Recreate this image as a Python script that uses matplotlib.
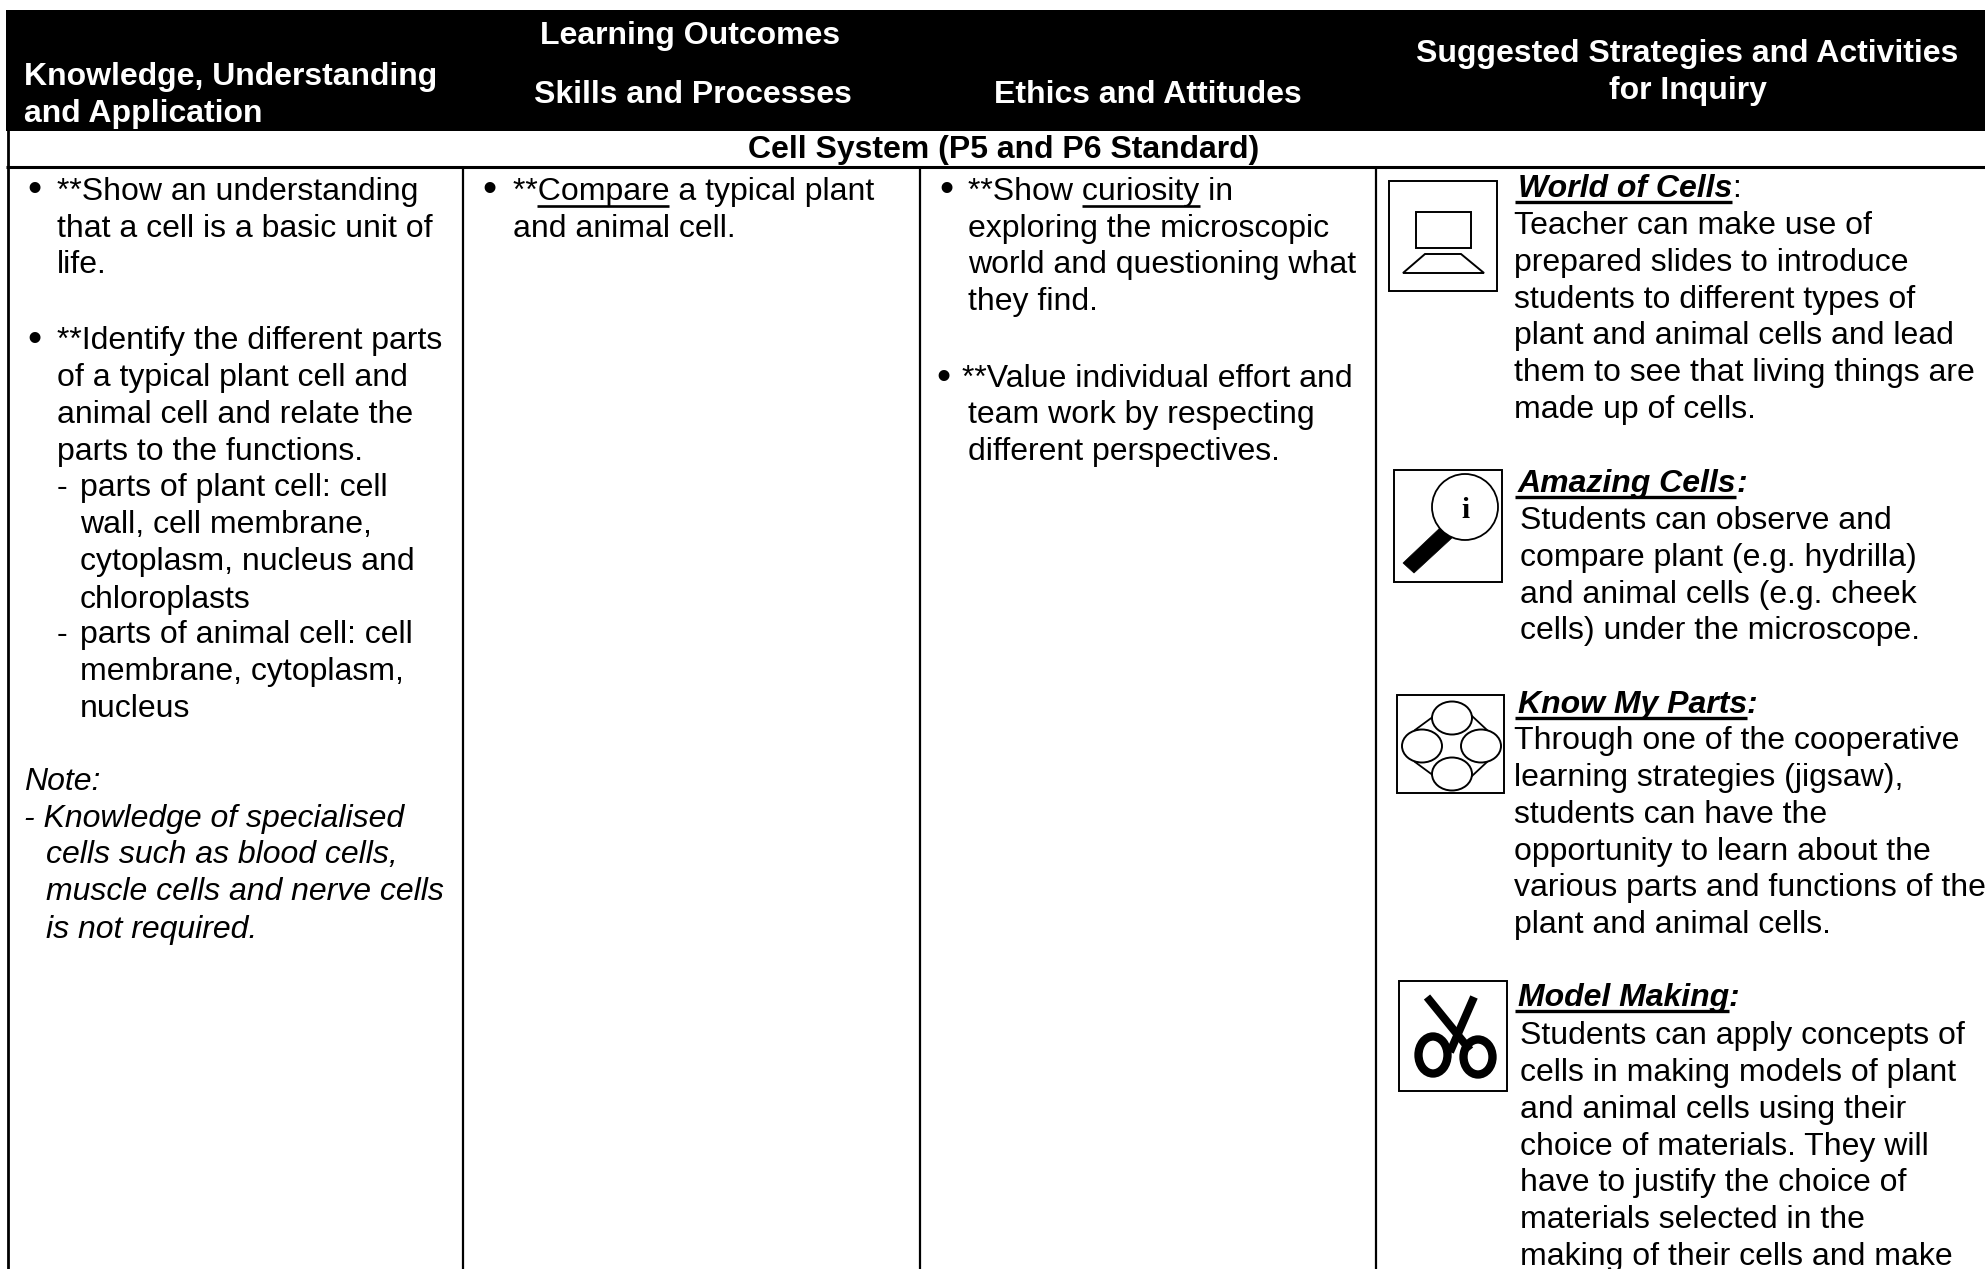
import matplotlib
matplotlib.use("Agg")
import matplotlib.pyplot as plt
from matplotlib.patches import Rectangle, Polygon, Ellipse, Circle

plt.rcParams['font.family'] = ['Liberation Sans', 'DejaVu Sans']

S = 1985 / 1568
FS = 23.0

# (text, x, y) in shrunk-reference coordinates
header_left = [("Knowledge, Understanding", 19, 59), ("and Application", 19, 88)]
header_center = [("Learning Outcomes", 545, 27), ("Skills and Processes", 547, 73),
                 ("Ethics and Attitudes", 907, 73),
                 ("Suggested Strategies and Activities", 1333, 41), ("for Inquiry", 1333, 70)]
section_title = ("Cell System (P5 and P6 Standard)", 793, 117)
bullets = [(27, 150), (27, 268), (387, 150), (748, 150), (745, 298)]
plain_lines = [
    ("**Show an understanding", 45, 150), ("that a cell is a basic unit of", 45, 179), ("life.", 45, 208),
    ("**Identify the different parts", 45, 268), ("of a typical plant cell and", 45, 297),
    ("animal cell and relate the", 45, 326), ("parts to the functions.", 45, 355),
    ("-", 45, 384), ("parts of plant cell: cell", 63, 384), ("wall, cell membrane,", 63, 413),
    ("cytoplasm, nucleus and", 63, 442), ("chloroplasts", 63, 472),
    ("-", 45, 500), ("parts of animal cell: cell", 63, 500), ("membrane, cytoplasm,", 63, 529),
    ("nucleus", 63, 558),
    ("and animal cell.", 405, 179),
    ("exploring the microscopic", 765, 179), ("world and questioning what", 765, 208),
    ("they find.", 765, 237), ("**Value individual effort and", 760, 298),
    ("team work by respecting", 765, 326), ("different perspectives.", 765, 355),
    ("Teacher can make use of", 1196, 177), ("prepared slides to introduce", 1196, 206),
    ("students to different types of", 1196, 235), ("plant and animal cells and lead", 1196, 264),
    ("them to see that living things are", 1196, 293), ("made up of cells.", 1196, 322),
    ("Students can observe and", 1201, 410), ("compare plant (e.g. hydrilla)", 1201, 439),
    ("and animal cells (e.g. cheek", 1201, 468), ("cells) under the microscope.", 1201, 497),
    ("Through one of the cooperative", 1196, 584), ("learning strategies (jigsaw),", 1196, 613),
    ("students can have the", 1196, 642), ("opportunity to learn about the", 1196, 671),
    ("various parts and functions of the", 1196, 700), ("plant and animal cells.", 1196, 729),
    ("Students can apply concepts of", 1201, 817), ("cells in making models of plant", 1201, 846),
    ("and animal cells using their", 1201, 875), ("choice of materials. They will", 1201, 904),
    ("have to justify the choice of", 1201, 933), ("materials selected in the", 1201, 962),
    ("making of their cells and make", 1201, 991),
]
italic_lines = [
    ("Note:", 19, 616), ("- Knowledge of specialised", 19, 645),
    ("cells such as blood cells,", 36, 674), ("muscle cells and nerve cells", 36, 703),
    ("is not required.", 36, 733),
]
# (before, underlined, after, x, y)
underlined_lines = [("**", "Compare", " a typical plant", 405, 150),
                    ("**Show ", "curiosity", " in", 765, 150)]
# (underlined title, colon weight, x, y)
titles = [("World of Cells", "normal", 1199, 148), ("Amazing Cells", "bold", 1199, 381),
          ("Know My Parts", "bold", 1199, 555), ("Model Making", "bold", 1199, 787)]
column_lines = [366, 727, 1087]

fig = plt.figure(figsize=(19.85, 12.69), dpi=100)
ax = fig.add_axes([0, 0, 1, 1])
ax.set_xlim(0, 1985)
ax.set_ylim(1269, 0)
ax.axis('off')
rend = fig.canvas.get_renderer()
BASE = 8.0


def T(s, x, y, **kw):
    kw.setdefault('fontsize', FS)
    kw.setdefault('color', 'black')
    return ax.text(x * S, (y + BASE) * S, s, va='baseline', **kw)


def adv(s, **kw):
    t = ax.text(0, 0, s + "x", fontsize=FS, **kw)
    w1 = t.get_window_extent(rend).width
    t.set_text("x")
    w2 = t.get_window_extent(rend).width
    t.remove()
    return w1 - w2


# table frame
ax.add_patch(Rectangle((6, 10), 1979, 121, fc='black', ec='none', zorder=1))
ax.plot([7.5, 7.5], [10, 1269], color='black', lw=2.0, solid_capstyle='butt')
ax.plot([6, 1985], [167, 167], color='black', lw=2.2, solid_capstyle='butt')
for cx in column_lines:
    ax.plot([cx * S, cx * S], [167, 1269], color='black', lw=1.6, solid_capstyle='butt')

for s, x, y in header_left:
    T(s, x, y, color='white', fontweight='bold', zorder=3)
for s, x, y in header_center:
    T(s, x, y, color='white', fontweight='bold', ha='center', zorder=3)
T(section_title[0], section_title[1], section_title[2], fontweight='bold', ha='center')

for x, y in bullets:
    T("•", x, y + 1, ha='center', fontsize=29)
for s, x, y in plain_lines:
    T(s, x, y)
for s, x, y in italic_lines:
    T(s, x, y, fontstyle='italic')
for a, u, b, x, y in underlined_lines:
    T(a + u + b, x, y)
    x0 = x * S + adv(a)
    x1 = x * S + adv(a + u)
    yy = (y + BASE) * S + 6
    ax.plot([x0, x1], [yy, yy], color='black', lw=1.9, solid_capstyle='butt')
for s, cw, x, y in titles:
    T(s, x, y, fontweight='bold', fontstyle='italic')
    w = adv(s, fontweight='bold', fontstyle='italic')
    ax.text(x * S + w, (y + BASE) * S, ":", fontsize=FS, va='baseline', fontweight=cw,
            fontstyle='italic' if cw == 'bold' else 'normal')
    yy = (y + BASE) * S + 5
    ax.plot([x * S - 3, x * S + w], [yy, yy], color='black', lw=2.4, solid_capstyle='butt')

# icon 1: computer
ax.add_patch(Rectangle((1389, 181), 108, 110, fc='white', ec='black', lw=1.4))
ax.add_patch(Rectangle((1416, 212), 55, 36, fc='white', ec='black', lw=1.4))
ax.add_patch(Polygon([(1403, 273), (1484, 273), (1461, 254), (1425, 254)], closed=True, fc='white', ec='black', lw=1.4))

# icon 2: magnifier
ax.add_patch(Rectangle((1394, 470), 108, 112, fc='white', ec='black', lw=1.4))
ax.add_patch(Polygon([(1442, 526), (1453, 537), (1414, 573), (1403, 563)], closed=True, fc='black', ec='black', lw=0.5))
ax.add_patch(Circle((1465, 507), 33, fc='white', ec='black', lw=1.3, zorder=3))
ax.text(1465, 518, "i", fontsize=21, family='Liberation Serif', fontweight='bold', ha='center', va='baseline', zorder=4)

# icon 3: group
ax.add_patch(Rectangle((1397, 695), 107, 98, fc='white', ec='black', lw=1.4))
for (xa, ya), (xb, yb) in [((1415, 730), (1434, 716)), ((1472, 716), (1487, 730)),
                           ((1415, 762), (1434, 776)), ((1472, 776), (1487, 762))]:
    ax.plot([xa, xb], [ya, yb], color='black', lw=1.3, zorder=2)
for c in [(1452, 718), (1452, 774), (1422, 746), (1481, 746)]:
    ax.add_patch(Ellipse(c, 40, 33, fc='white', ec='black', lw=1.4, zorder=3))

# icon 4: scissors
ax.add_patch(Rectangle((1399, 981), 108, 110, fc='white', ec='black', lw=1.4))
ax.plot([1427, 1470], [997, 1050], color='black', lw=5.8, solid_capstyle='butt')
ax.plot([1474, 1450], [997, 1052], color='black', lw=5.8, solid_capstyle='butt')
ax.add_patch(Ellipse((1433, 1055), 29, 37, fc='none', ec='black', lw=6))
ax.add_patch(Ellipse((1478, 1057), 29, 35, fc='none', ec='black', lw=6))

fig.savefig("out.png", dpi=100, facecolor='white')
